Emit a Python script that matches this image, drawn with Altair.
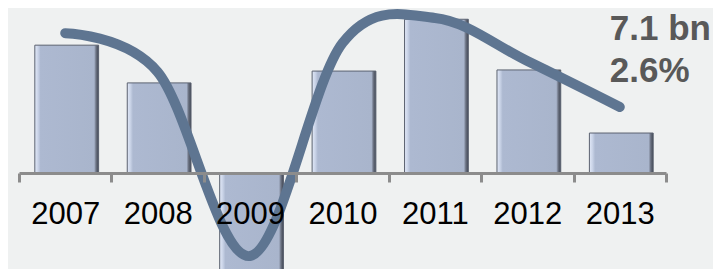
import altair as alt
import pandas as pd

years = ["2007", "2008", "2009", "2010", "2011", "2012", "2013"]
volume_bn = [22.7, 16.0, -18.0, 18.1, 27.3, 18.3, 7.1]
growth_pct = [5.51, 3.98, -3.27, 5.12, 6.11, 4.41, 2.6]
note_lines = ["7.1 bn", "2.6%"]

df = pd.DataFrame({"year": years, "volume": volume_bn, "growth": growth_pct})
notes = pd.DataFrame({"year": ["2013", "2013"], "text": note_lines, "row": [0, 1]})

FONT = "Liberation Sans"

x_enc = alt.X(
    "year:N",
    sort=years,
    title=None,
    scale=alt.Scale(paddingInner=0, paddingOuter=0),
    axis=alt.Axis(
        labelAngle=0,
        labelFont=FONT,
        labelFontSize=31,
        labelColor="#000000",
        labelBaseline="alphabetic",
        labelPadding=41,
        labelOverlap=False,
        domainColor="#8c8c8c",
        domainWidth=3,
        tickColor="#8c8c8c",
        tickWidth=3,
        tickSize=9,
        tickBand="extent",
        grid=False,
        zindex=1,
    ),
)

bar_fill = alt.Gradient(
    gradient="linear",
    x1=0, x2=1, y1=0, y2=0,
    stops=[
        alt.GradientStop(color="#e2e9f8", offset=0),
        alt.GradientStop(color="#c9d3e7", offset=0.05),
        alt.GradientStop(color="#adb9d1", offset=0.09),
        alt.GradientStop(color="#a9b5cc", offset=0.93),
        alt.GradientStop(color="#6c7383", offset=0.96),
        alt.GradientStop(color="#3f4552", offset=1),
    ],
)

bars = alt.Chart(df).mark_bar(
    color=bar_fill,
    stroke="#5b6270",
    strokeWidth=1,
    width=alt.RelativeBandSize(0.69),
    xOffset=1.5,
).encode(
    x=x_enc,
    y=alt.Y("volume:Q", axis=None, scale=alt.Scale(domain=[0, 29.3], nice=False, zero=False)),
)

line = alt.Chart(df).mark_line(
    color="#5e7591",
    strokeWidth=10,
    strokeCap="round",
    strokeJoin="round",
    interpolate="cardinal",
).encode(
    x=alt.X("year:N", sort=years),
    y=alt.Y("growth:Q", axis=None, scale=alt.Scale(domain=[0, 6.5], nice=False, zero=False)),
)

note0 = alt.Chart(notes).transform_filter("datum.row == 0").mark_text(
    font=FONT, fontSize=35, fontWeight="bold", color="#595959",
    align="left", baseline="alphabetic", dx=-10,
).encode(x=alt.X("year:N", sort=years), y=alt.value(32), text="text:N")

note1 = alt.Chart(notes).transform_filter("datum.row == 1").mark_text(
    font=FONT, fontSize=35, fontWeight="bold", color="#595959",
    align="left", baseline="alphabetic", dx=-10,
).encode(x=alt.X("year:N", sort=years), y=alt.value(74), text="text:N")

chart = (
    alt.layer(bars, line, note0, note1)
    .resolve_scale(y="independent")
    .properties(
        width=647,
        height=165,
        autosize=alt.AutoSizeParams(type="none"),
        padding={"left": 11, "top": 0, "right": 47, "bottom": 96},
        background="#eff1f1",
    )
    .configure_view(stroke=None)
)

chart.save("out.html", embed_options={"renderer": "svg", "actions": False})
